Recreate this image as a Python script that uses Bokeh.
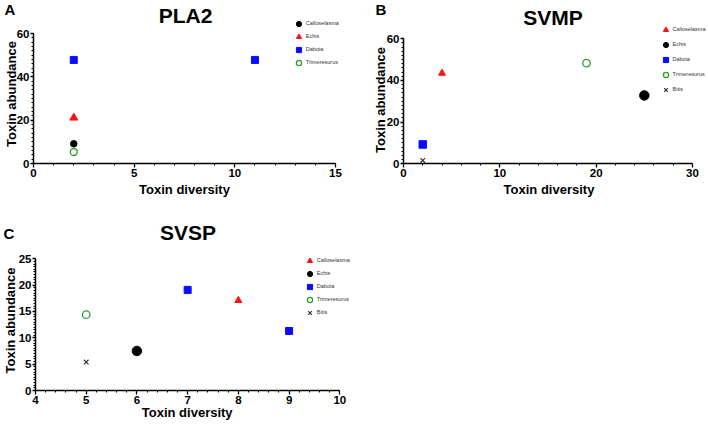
from bokeh.plotting import figure
from bokeh.layouts import column, row
from bokeh.models import Range1d, FixedTicker, Label
from bokeh.embed import file_html
from bokeh.resources import INLINE
import numpy as np

FONT = "Liberation Sans"

# ---------------- data ----------------
# Panel A: PLA2
pla2_species = ["Calloselasma", "Echis", "Daboia", "Trimeresurus"]
pla2_x = [[2], [2], [2, 11], [2]]
pla2_y = [[9.1], [21.1], [47.8, 47.8], [5.3]]

# Panel B: SVMP
svmp_species = ["Calloselasma", "Echis", "Daboia", "Trimeresurus", "Bitis"]
svmp_x = [[4], [25], [2], [19], [2]]
svmp_y = [[43.5], [32.8], [9.3], [48.3], [1.6]]

# Panel C: SVSP
svsp_species = ["Calloselasma", "Echis", "Daboia", "Trimeresurus", "Bitis"]
svsp_x = [[8], [6], [7, 9], [5], [5]]
svsp_y = [[17.1], [7.5], [19.1, 11.3], [14.4], [5.4]]

# axis ranges and ticks
a_xrange, a_yrange = (0, 15), (0, 60)
b_xrange, b_yrange = (0, 30), (0, 60)
c_xrange, c_yrange = (4, 10), (0, 25)
a_xticks = [0, 5, 10, 15]
a_yticks = [0, 20, 40, 60]
b_xticks = [0, 10, 20, 30]
b_yticks = [0, 20, 40, 60]
c_xticks = [4, 5, 6, 7, 8, 9, 10]
c_yticks = [0, 5, 10, 15, 20, 25]

x_title = "Toxin diversity"
y_title = "Toxin abundance"

# ---------------- styles ----------------
STY = {
    "circle":   dict(marker="circle", fill_color="black", line_color="black"),
    "triangle": dict(marker="triangle", fill_color="#ff1010", line_color="#ff1010"),
    "square":   dict(marker="square", fill_color="#0b0bff", line_color="#0b0bff"),
    "open":     dict(marker="circle", fill_color=None, line_color="#2f9e2f", line_width=1.3),
    "x":        dict(marker="x", line_color="#333333", line_width=1.2),
}


def add_text(p, fh, x, y, text, size, font=FONT, align="center", angle=0.0,
             style="bold"):
    p.add_layout(Label(x=x, y=fh - y, x_units="screen", y_units="screen",
                       text=text, text_font=font, text_font_size=size,
                       text_font_style=style, text_baseline="middle",
                       text_align=align, angle=angle, text_color="black"))


def make_panel(title, letter, species, xs, ys, styles, sizes, xr, yr, xt, yt,
               xminor, yminor, width, height, data_px, title_xy, letter_xy,
               xlab_xy, ylab_xy, legend_xy, legend_rowh):
    # data_px: pixel box (left, right, top, bottom) of the data area in the figure
    pl, pr, pt, pb = data_px
    sx = (xr[1] - xr[0]) / (pr - pl)
    sy = (yr[1] - yr[0]) / (pb - pt)
    x_range = Range1d(xr[0] - pl * sx, xr[1] + (width - pr) * sx)
    y_range = Range1d(yr[0] - (height - pb) * sy, yr[1] + pt * sy)
    p = figure(width=width, height=height, output_backend="svg",
               toolbar_location=None, x_range=x_range, y_range=y_range,
               min_border=0)
    p.outline_line_color = None
    p.xgrid.visible = False
    p.ygrid.visible = False
    p.background_fill_color = "white"
    p.border_fill_color = "white"

    for sp, x, y, st, sz in zip(species, xs, ys, styles, sizes):
        p.scatter(x=x, y=y, size=sz, legend_label=sp, **STY[st])

    p.xaxis.ticker = FixedTicker(ticks=xt, minor_ticks=list(xminor))
    p.yaxis.ticker = FixedTicker(ticks=yt, minor_ticks=list(yminor))
    p.xaxis.bounds = xr
    p.yaxis.bounds = yr
    p.yaxis.fixed_location = xr[0]
    p.xaxis.fixed_location = yr[0]
    for ax in (p.xaxis, p.yaxis):
        ax.major_label_text_font = FONT
        ax.major_label_text_font_size = "11.5px"
        ax.major_label_text_font_style = "bold"
        ax.major_label_text_color = "black"
        ax.major_label_standoff = 1
        ax.axis_line_width = 1.5
        ax.axis_line_color = "black"
        ax.major_tick_in = 0
        ax.major_tick_out = 4
        ax.major_tick_line_width = 1.3
        ax.major_tick_line_color = "black"
        ax.minor_tick_in = 0
        ax.minor_tick_out = 2
        ax.minor_tick_line_color = "black"
    p.yaxis.major_tick_out = 3

    fh = height
    add_text(p, fh, title_xy[0], title_xy[1], title, "21px")
    add_text(p, fh, letter_xy[0], letter_xy[1], letter, "15px", align="left")
    add_text(p, fh, xlab_xy[0], xlab_xy[1], x_title, "13px")
    add_text(p, fh, ylab_xy[0], ylab_xy[1], y_title, "13px", angle=np.pi / 2)

    n = len(species)
    lg = p.legend[0]
    lg.location = (legend_xy[0] - 6.5,
                   fh - (legend_xy[1] - legend_rowh / 2 + n * legend_rowh))
    lg.glyph_height = legend_rowh
    lg.glyph_width = 13
    lg.label_height = legend_rowh
    lg.label_standoff = 1
    lg.spacing = 0
    lg.padding = 0
    lg.margin = 0
    lg.border_line_color = None
    lg.background_fill_alpha = 0
    lg.label_text_font = FONT
    lg.label_text_font_size = "5.5px"
    lg.label_text_color = "#333333"
    return p


pA = make_panel("PLA2", "A", pla2_species, pla2_x, pla2_y,
                ["circle", "triangle", "square", "open"], [6.5, 8, 7, 7],
                a_xrange, a_yrange, a_xticks, a_yticks,
                np.arange(0, 15.01, 1), np.arange(0, 60.01, 2),
                358, 210, (33, 335, 33, 163), (185, 14.5), (4, 8.5),
                (184, 189), (10.5, 93.5), (298.3, 23.3), 13)

pB = make_panel("SVMP", "B", svmp_species, svmp_x, svmp_y,
                ["triangle", "circle", "square", "open", "x"], [7, 9.5, 7.5, 7.5, 6.5],
                b_xrange, b_yrange, b_xticks, b_yticks,
                np.arange(0, 30.01, 2), np.arange(0, 60.01, 2),
                350, 210, (45, 334, 38.3, 163.3), (194.5, 16.7), (17, 9),
                (190.5, 189), (22, 99.5), (307, 29), 15)

pC = make_panel("SVSP", "C", svsp_species, svsp_x, svsp_y,
                ["triangle", "circle", "square", "open", "x"], [7, 9.5, 7, 7.5, 6.5],
                c_xrange, c_yrange, c_xticks, c_yticks,
                np.arange(4, 10.01, 0.2), np.arange(0, 25.01, 0.5),
                358, 216, (35, 339.3, 48.3, 180), (187.5, 21.5), (3, 23),
                (186.7, 201.5), (9.5, 110), (309.3, 50), 13)

layout = column(row(pA, pB), pC)
open("out.html", "w").write(file_html(layout, INLINE))
